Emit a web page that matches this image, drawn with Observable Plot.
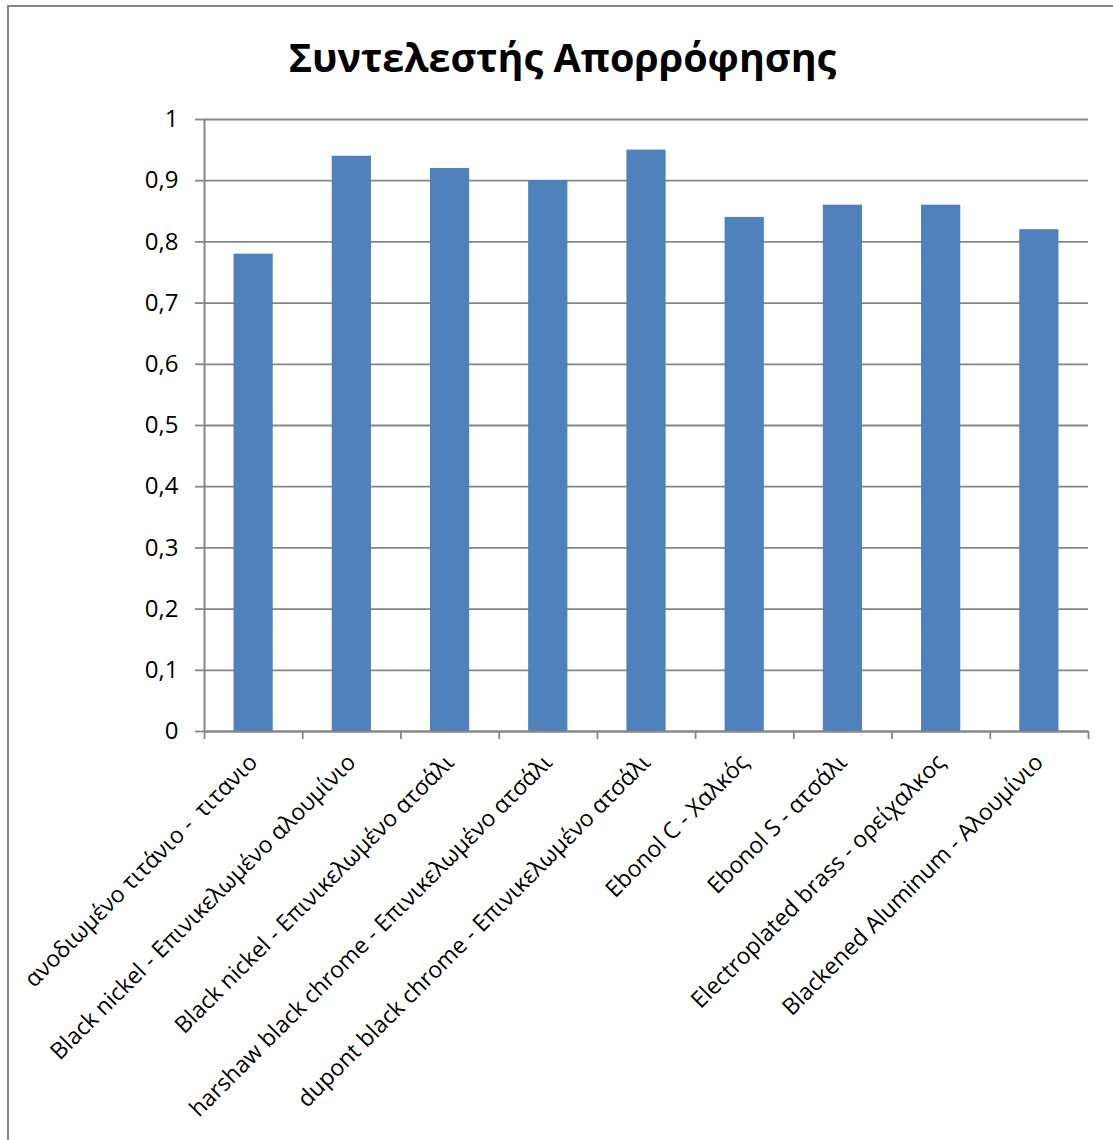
<!DOCTYPE html>
<html>
<head>
<meta charset="utf-8">
<script src="https://cdn.jsdelivr.net/npm/d3@7"></script>
<script src="https://cdn.jsdelivr.net/npm/@observablehq/plot@0.6"></script>
<style>
  html, body { margin: 0; padding: 0; background: #fff; overflow: hidden; }
  #wrap { position: relative; width: 1113px; height: 1140px; overflow: hidden; }
  #frame { position: absolute; left: 7px; top: 5px; width: 1300px; height: 1300px; border: 2px solid #878787; box-sizing: border-box; }
  #title { position: absolute; left: 6px; width: 1113px; top: 30px; text-align: center; font-family: "Open Sans", sans-serif; font-weight: bold; font-size: 39.5px; color: #000; }
  #chart { position: absolute; left: 0; top: 0; }
</style>
</head>
<body>
<div id="wrap">
  <div id="frame"></div>
  <div id="chart"></div>
  <div id="title">Συντελεστής Απορρόφησης</div>
</div>
<script>
const categories = [
  "ανοδιωμένο τιτάνιο -  τιτανιο",
  "Black nickel - Επινικελωμένο αλουμίνιο",
  "Black nickel - Επινικελωμένο ατσάλι",
  "harshaw black chrome - Επινικελωμένο ατσάλι",
  "dupont black chrome - Επινικελωμένο ατσάλι",
  "Ebonol C - Χαλκός",
  "Ebonol S - ατσάλι",
  "Electroplated brass - ορείχαλκος",
  "Blackened Aluminum - Αλουμίνιο"
];
const values = [0.78, 0.94, 0.92, 0.90, 0.95, 0.84, 0.86, 0.86, 0.82];
const yTicks = [0, 0.1, 0.2, 0.3, 0.4, 0.5, 0.6, 0.7, 0.8, 0.9, 1];
const yTickLabels = ["0", "0,1", "0,2", "0,3", "0,4", "0,5", "0,6", "0,7", "0,8", "0,9", "1"];

const data = categories.map((c, i) => ({i, c, v: values[i]}));
const boundaries = d3.range(categories.length + 1);

const plot = Plot.plot({
  width: 1113,
  height: 1140,
  marginLeft: 204,
  marginRight: 25,
  marginTop: 119,
  marginBottom: 409,
  style: {fontFamily: "Open Sans, sans-serif", fontSize: "24px", color: "#000", background: "transparent"},
  x: {type: "linear", domain: [0, categories.length], axis: null, label: null},
  y: {type: "linear", domain: [0, 1], axis: null, label: null},
  marks: [
    Plot.ruleY(yTicks, {y: d => d, x1: 0, x2: categories.length, stroke: "#868686", strokeWidth: 1.8}),
    Plot.axisY({ticks: yTicks, tickFormat: (d, k) => yTickLabels[k], tickSize: 9, tickPadding: 17, stroke: "#868686", strokeWidth: 1.8, fontSize: 24, label: null}),
    Plot.rectY(data, {x1: d => d.i, x2: d => d.i + 1, y1: 0, y2: "v", fill: "#4F81BD", insetLeft: 29.5, insetRight: 29.5}),
    Plot.ruleX([0], {stroke: "#868686", strokeWidth: 2, y1: 0, y2: 1}),
    Plot.ruleY([0], {stroke: "#868686", strokeWidth: 2}),
    Plot.axisX({ticks: boundaries, tickFormat: () => "", tickSize: 8, stroke: "#868686", strokeWidth: 1.8, label: null}),
    Plot.text(data, {x: d => d.i + 0.5, y: () => 0, text: "c", rotate: -45, textAnchor: "end", lineAnchor: "middle", dx: 0, dy: 27, fontSize: 23, fill: "#000"})
  ]
});
document.getElementById("chart").appendChild(plot);
</script>
</body>
</html>
